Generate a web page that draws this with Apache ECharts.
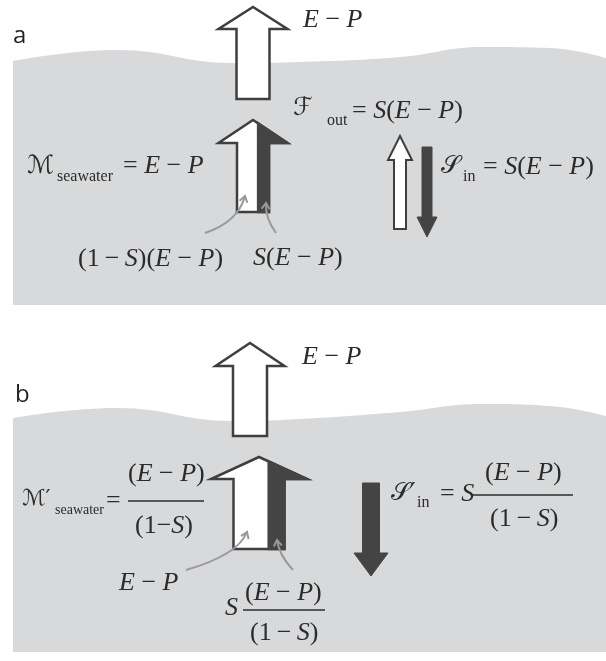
<!DOCTYPE html>
<html>
<head>
<meta charset="utf-8">
<script src="https://cdn.jsdelivr.net/npm/echarts@6/dist/echarts.min.js"></script>
<style>
html, body { margin: 0; padding: 0; background: #fff; }
#chart { width: 606px; height: 661px; }
</style>
</head>
<body>
<div id="chart"></div>
<script>
// sea surface (x, y) for panel a and b, and the bottom of each sea block
var surfaceA = [[13,61],[117,50],[233,63],[300,62],[400,57],[483,47],[550,48],[606,58]];
var surfaceB = [[13,418],[117,408],[233,421],[300,419],[400,412],[483,404],[550,406],[606,416]];
var seaFloor = [305, 652];

// arrows: [centreX, tailY, tipY, shaftWidth, headWidth, headLength]
var openArrows = [[253,99,7,33,69,22],[250,436,343,34,69,23],[400,229,136,12,24,24]];
// split arrows, last value = salt share of the shaft (dark part)
var splitArrows = [[253,212,120,32,69,23,0.34],[259,549,457,51,96,22,0.31]];
var darkArrows = [[427,147,237,10,20,20],[371,483,576,17,34,23]];

// little grey pointers: [startX, startY, ctrlX, ctrlY, endX, endY]
var pointers = [[205,233,238,222,245,196],[276,233,265,218,266,203],[186,570,238,555,247,532],[293,570,279,555,277,540]];

// text: [x, baselineY, text, kind]
var texts = [
    [13, 45, 'a', 'panel'],
    [303, 29, '{i|E} − {i|P}', 'math'],
    [27, 175, 'ℳ', 'script'],
    [57, 182, 'seawater', 'sub'],
    [123, 175, '= {i|E} − {i|P}', 'math'],
    [293, 117, 'ℱ', 'script'],
    [327, 126, 'out', 'sub'],
    [352, 120, '= {i|S}({i|E} − {i|P})', 'math'],
    [441, 175, '𝒮', 'script'],
    [463, 182, 'in', 'sub'],
    [483, 176, '= {i|S}({i|E} − {i|P})', 'math'],
    [78, 268, '(1\u2009−\u2009{i|S})({i|E} − {i|P})', 'math'],
    [253, 267, '{i|S}({i|E} − {i|P})', 'math'],
    [15, 404, 'b', 'panel'],
    [302, 366, '{i|E} − {i|P}', 'math'],
    [22, 507, 'ℳ′', 'scriptSmall'],
    [55, 515, 'seawater', 'subSmall'],
    [106, 510, '=', 'math'],
    [128, 483, '({i|E} − {i|P})', 'math'],
    [135, 535, '(1−{i|S})', 'math'],
    [391, 502, '𝒮′', 'script'],
    [417, 508, 'in', 'sub'],
    [440, 503, '= {i|S}', 'math'],
    [485, 482, '({i|E} − {i|P})', 'math'],
    [490, 528, '(1\u2009−\u2009{i|S})', 'math'],
    [119, 592, '{i|E} − {i|P}', 'math'],
    [225, 617, '{i|S}', 'math'],
    [245, 602, '({i|E} − {i|P})', 'math'],
    [250, 642, '(1\u2009−\u2009{i|S})', 'math']
];
// fraction bars: [x1, x2, y]
var fractionBars = [[128,204,501],[473,573,495],[243,325,610]];

var seaColor = '#d8d9db';
var ink = '#2b2b2b';
var arrowDark = '#444444';
var serif = '"Liberation Serif", "Times New Roman", serif';
var scriptFont = '"DejaVu Serif", "DejaVu Sans", serif';

var kinds = {
    panel: { family: '"Open Sans", sans-serif', size: 24, k: 0.388, color: '#231f20' },
    math: { family: serif, size: 26, k: 0.3375, color: ink },
    sub: { family: serif, size: 16, k: 0.3375, color: ink },
    subSmall: { family: serif, size: 14, k: 0.3375, color: ink },
    script: { family: scriptFont, size: 25, k: 0.35, color: ink },
    scriptSmall: { family: scriptFont, size: 22, k: 0.35, color: ink }
};

var chart = echarts.init(document.getElementById('chart'));

function pt(api, x, y) {
    return api.coord([x, y]);
}

function arrowShape(api, cx, tail, tip, sw, hw, hl) {
    var base = tip < tail ? tip + hl : tip - hl;
    return [
        pt(api, cx - sw / 2, tail), pt(api, cx - sw / 2, base), pt(api, cx - hw / 2, base),
        pt(api, cx, tip),
        pt(api, cx + hw / 2, base), pt(api, cx + sw / 2, base), pt(api, cx + sw / 2, tail)
    ];
}

function renderOpen(params, api) {
    var v = openArrows[params.dataIndex];
    return {
        type: 'polygon',
        shape: { points: arrowShape(api, v[0], v[1], v[2], v[3], v[4], v[5]) },
        style: { fill: '#fff', stroke: '#3f3f3f', lineWidth: v[3] < 20 ? 2 : 2.5, lineJoin: 'miter' }
    };
}

function renderSplit(params, api) {
    var v = splitArrows[params.dataIndex];
    var cx = v[0], tail = v[1], tip = v[2], sw = v[3], hw = v[4], hl = v[5];
    var base = tip + hl;
    var right = cx + sw / 2;
    var split = right - sw * v[6];
    var slopeY = tip + (split - cx) / (hw / 2) * hl;
    return {
        type: 'group',
        children: [{
            type: 'polygon',
            shape: { points: arrowShape(api, cx, tail, tip, sw, hw, hl) },
            style: { fill: '#fff', stroke: '#3f3f3f', lineWidth: 2.5, lineJoin: 'miter' }
        }, {
            type: 'polygon',
            shape: { points: [
                pt(api, split, tail), pt(api, split, slopeY), pt(api, cx + hw / 2, base),
                pt(api, right, base), pt(api, right, tail)
            ] },
            style: { fill: arrowDark, stroke: arrowDark, lineWidth: 2.5, lineJoin: 'miter' }
        }]
    };
}

function renderDark(params, api) {
    var v = darkArrows[params.dataIndex];
    return {
        type: 'polygon',
        shape: { points: arrowShape(api, v[0], v[1], v[2], v[3], v[4], v[5]) },
        style: { fill: arrowDark, stroke: arrowDark, lineWidth: 1 }
    };
}

function renderPointer(params, api) {
    var v = pointers[params.dataIndex];
    var s = pt(api, v[0], v[1]), c = pt(api, v[2], v[3]), e = pt(api, v[4], v[5]);
    var dx = e[0] - c[0], dy = e[1] - c[1];
    var len = Math.sqrt(dx * dx + dy * dy);
    dx /= len; dy /= len;
    var back = [e[0] - dx * 6, e[1] - dy * 6];
    return {
        type: 'group',
        children: [{
            type: 'bezierCurve',
            shape: { x1: s[0], y1: s[1], cpx1: c[0], cpy1: c[1], x2: e[0], y2: e[1] },
            style: { stroke: '#999', lineWidth: 2, fill: null }
        }, {
            type: 'polyline',
            shape: { points: [
                [back[0] - dy * 4, back[1] + dx * 4], e, [back[0] + dy * 4, back[1] - dx * 4]
            ] },
            style: { stroke: '#999', lineWidth: 2, fill: null }
        }]
    };
}

function renderText(params, api) {
    var t = texts[params.dataIndex];
    var kd = kinds[t[3]];
    var p = pt(api, t[0], t[1] - kd.k * kd.size);
    return {
        type: 'text',
        x: p[0],
        y: p[1],
        style: {
            text: t[2],
            fontFamily: kd.family,
            fontSize: kd.size,
            fill: kd.color,
            align: 'left',
            verticalAlign: 'middle',
            rich: {
                i: { fontFamily: serif, fontStyle: 'italic', fontSize: kd.size, fill: kd.color }
            }
        }
    };
}

function renderBar(params, api) {
    var v = fractionBars[params.dataIndex];
    var a = pt(api, v[0], v[2]), b = pt(api, v[1], v[2]);
    return {
        type: 'line',
        shape: { x1: a[0], y1: a[1], x2: b[0], y2: b[1] },
        style: { stroke: ink, lineWidth: 1.5 }
    };
}

function seaSeries(data, floor) {
    return {
        type: 'line',
        z: 1,
        data: data,
        smooth: 0.45,
        symbol: 'none',
        silent: true,
        lineStyle: { width: 0, opacity: 0 },
        areaStyle: { color: seaColor, opacity: 1, origin: floor }
    };
}

function rows(arr) {
    return arr.map(function (r) { return [r[0], r[1]]; });
}

function custom(arr, fn) {
    return { type: 'custom', z: 5, silent: true, data: rows(arr), renderItem: fn };
}

chart.setOption({
    animation: false,
    backgroundColor: '#fff',
    grid: { left: 0, right: 0, top: 0, bottom: 0 },
    xAxis: { type: 'value', min: 0, max: 606, show: false },
    yAxis: { type: 'value', min: 0, max: 661, inverse: true, show: false },
    series: [
        seaSeries(surfaceA, seaFloor[0]),
        seaSeries(surfaceB, seaFloor[1]),
        custom(openArrows, renderOpen),
        custom(splitArrows, renderSplit),
        custom(darkArrows, renderDark),
        custom(pointers, renderPointer),
        custom(fractionBars, renderBar),
        custom(texts, renderText)
    ]
});
</script>
</body>
</html>
